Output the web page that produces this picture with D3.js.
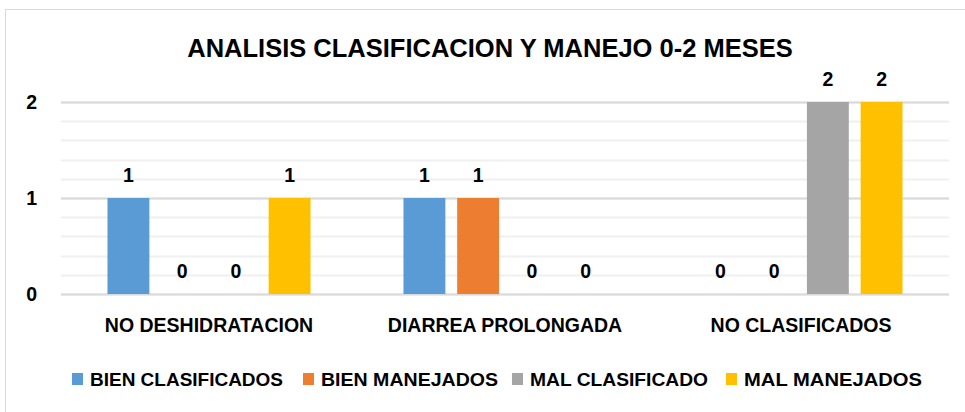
<!DOCTYPE html>
<html>
<head>
<meta charset="utf-8">
<script src="https://cdn.jsdelivr.net/npm/d3@7"></script>
<style>
  body { margin: 0; background: #fff; }
  text { font-family: "Liberation Sans", Arial, sans-serif; font-weight: bold; fill: #000; }
</style>
</head>
<body>
<div id="chart"></div>
<script>
// Chart data
const categories = ['NO DESHIDRATACION', 'DIARREA PROLONGADA', 'NO CLASIFICADOS'];
const seriesNames = ['BIEN CLASIFICADOS', 'BIEN MANEJADOS', 'MAL CLASIFICADO', 'MAL MANEJADOS'];
const bienClasificados = [1, 1, 0];
const bienManejados = [0, 1, 0];
const malClasificado = [0, 0, 2];
const malManejados = [1, 0, 2];
const yTicks = [0, 1, 2];
const title = 'ANALISIS CLASIFICACION Y MANEJO 0-2 MESES';

const colors = ['#5B9BD5', '#ED7D31', '#A5A5A5', '#FFC000'];
const seriesValues = [bienClasificados, bienManejados, malClasificado, malManejados];

const width = 965, height = 412;
const plot = { left: 61, right: 949, top: 102, bottom: 294 };

const svg = d3.select('#chart').append('svg')
    .attr('width', width)
    .attr('height', height);

// chart border
svg.append('rect')
    .attr('x', 5.5).attr('y', 9.5)
    .attr('width', 975).attr('height', 420)
    .attr('fill', '#fff')
    .attr('stroke', '#D9D9D9');

const x0 = d3.scaleBand()
    .domain(categories)
    .range([plot.left, plot.right])
    .padding(0);

const x1 = d3.scaleBand()
    .domain(seriesNames)
    .range([x0.bandwidth() * 0.157, x0.bandwidth() * 0.843])
    .paddingInner(0.22)
    .paddingOuter(0);

const y = d3.scaleLinear()
    .domain([0, 2])
    .range([plot.bottom, plot.top]);

// minor gridlines
const minor = d3.range(0, 2.0001, 0.2);
svg.append('g').selectAll('line')
    .data(minor)
    .enter().append('line')
    .attr('x1', plot.left).attr('x2', plot.right)
    .attr('y1', d => Math.round(y(d)) + 0.5)
    .attr('y2', d => Math.round(y(d)) + 0.5)
    .attr('stroke', '#F0F0F0')
    .attr('stroke-width', 2);

// major gridlines
svg.append('g').selectAll('line')
    .data(yTicks)
    .enter().append('line')
    .attr('x1', plot.left).attr('x2', plot.right)
    .attr('y1', d => Math.round(y(d)) + 0.5)
    .attr('y2', d => Math.round(y(d)) + 0.5)
    .attr('stroke', '#D9D9D9')
    .attr('stroke-width', 2);

// y axis labels
const yAxis = d3.axisLeft(y).tickValues(yTicks).tickFormat(d3.format('d')).tickSize(0).tickPadding(24);
const yg = svg.append('g')
    .attr('transform', `translate(${plot.left},0)`)
    .call(yAxis);
yg.select('.domain').remove();
yg.selectAll('text')
    .attr('font-size', 19.5)
    .style('font-family', '"Liberation Sans", Arial, sans-serif')
    .attr('fill', '#000');

// bars + value labels
const groups = svg.append('g').selectAll('g')
    .data(categories)
    .enter().append('g')
    .attr('transform', d => `translate(${x0(d)},0)`);

groups.each(function(cat, ci) {
    const g = d3.select(this);
    seriesNames.forEach((s, si) => {
        const v = seriesValues[si][ci];
        g.append('rect')
            .attr('x', x1(s))
            .attr('y', y(v))
            .attr('width', x1.bandwidth())
            .attr('height', y(0) - y(v))
            .attr('fill', colors[si]);
        g.append('text')
            .attr('x', x1(s) + x1.bandwidth() / 2)
            .attr('y', y(v) - 16)
            .attr('text-anchor', 'middle')
            .attr('font-size', 19.5)
            .text(v);
    });
});

// x axis labels
const xAxis = d3.axisBottom(x0).tickSize(0).tickPadding(24.5);
const xg = svg.append('g')
    .attr('transform', `translate(0,${plot.bottom})`)
    .call(xAxis);
xg.select('.domain').remove();
xg.selectAll('text')
    .attr('font-size', 19.5)
    .style('font-family', '"Liberation Sans", Arial, sans-serif')
    .attr('fill', '#000');

// title
svg.append('text')
    .attr('x', 490)
    .attr('y', 57)
    .attr('text-anchor', 'middle')
    .attr('font-size', 25.5)
    .text(title);

// legend
const legendX = [72, 303, 512, 726];
const legendW = [193, 177, 178, 178];
const legend = svg.append('g').selectAll('g')
    .data(seriesNames)
    .enter().append('g')
    .attr('transform', (d, i) => `translate(${legendX[i]},373)`);
legend.append('rect')
    .attr('width', 11).attr('height', 12)
    .attr('fill', (d, i) => colors[i]);
legend.append('text')
    .attr('x', 18)
    .attr('y', 13)
    .attr('font-size', 19)
    .attr('textLength', (d, i) => legendW[i])
    .attr('lengthAdjust', 'spacingAndGlyphs')
    .text(d => d);
</script>
</body>
</html>
